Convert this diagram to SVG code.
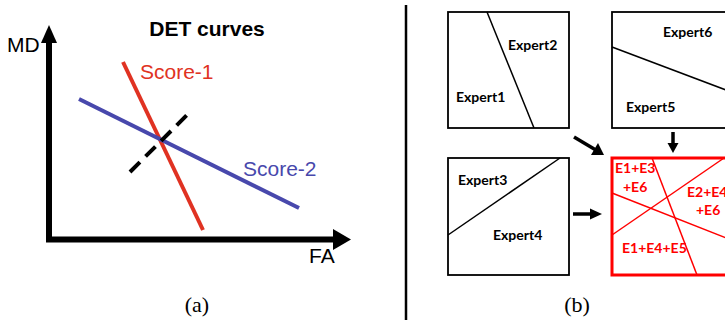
<svg xmlns="http://www.w3.org/2000/svg" width="725" height="322" viewBox="0 0 725 322">
<style>
.ax{stroke:#000;stroke-width:6;fill:none}
.lbl{font-family:"Liberation Sans",Arial,sans-serif;font-size:21px}
.cap{font-family:"Liberation Serif","DejaVu Serif",serif;font-size:22px}
.box{fill:#fff;stroke:#000;stroke-width:1.8}
.thin{stroke:#000;stroke-width:1.5}
.ex{font-family:Lato,"Liberation Sans",sans-serif;font-weight:bold;font-size:14px;fill:#000}
.rex{font-family:Lato,"Liberation Sans",sans-serif;font-weight:bold;font-size:14px;fill:#f00}
.rl{stroke:#f00;stroke-width:1.5}
.arr{stroke:#000;stroke-width:3.5}
</style>
<rect width="725" height="322" fill="#fff"/>
<g id="panel-a">
<g id="axes">
<line class="ax" x1="49" y1="40" x2="49" y2="239.5"/>
<line class="ax" x1="46" y1="239.5" x2="336" y2="239.5"/>
<polygon points="49,25 41,43 57,43" fill="#000"/>
<polygon points="351,239.5 333,229 333,250" fill="#000"/>
</g>
<text class="lbl" x="7" y="52">MD</text>
<text class="lbl" x="309" y="263">FA</text>
<text class="lbl" x="207" y="36" font-weight="bold" text-anchor="middle">DET curves</text>
<g id="score1"><line x1="123" y1="62" x2="203" y2="230" stroke="#e03222" stroke-width="4"/>
<text class="lbl" x="140" y="79" fill="#e03222">Score-1</text></g>
<g id="score2"><line x1="79" y1="99" x2="299" y2="208" stroke="#4848ac" stroke-width="4"/>
<text class="lbl" x="243" y="176" fill="#4848ac">Score-2</text></g>
<line x1="130" y1="172" x2="192" y2="110" stroke="#000" stroke-width="4" stroke-dasharray="14 8"/>
<text class="cap" x="197" y="312" text-anchor="middle">(a)</text>
</g>
<line x1="406" y1="5" x2="406" y2="320" stroke="#000" stroke-width="2.5"/>
<g id="panel-b">
<g id="expert12">
<rect class="box" x="448" y="12" width="121" height="116"/>
<line class="thin" x1="487" y1="12" x2="534" y2="128"/>
<text class="ex" x="508" y="50">Expert2</text>
<text class="ex" x="456" y="102">Expert1</text>
</g>
<g id="expert56">
<rect class="box" x="612" y="12" width="122" height="116"/>
<line class="thin" x1="612" y1="47" x2="734" y2="93"/>
<text class="ex" x="663" y="37">Expert6</text>
<text class="ex" x="626" y="112">Expert5</text>
</g>
<g id="expert34">
<rect class="box" x="448" y="158" width="121" height="117"/>
<line class="thin" x1="448" y1="235" x2="560" y2="158"/>
<text class="ex" x="458" y="185">Expert3</text>
<text class="ex" x="493" y="240">Expert4</text>
</g>
<g id="fusion">
<rect x="612" y="158" width="122" height="117" fill="#fff" stroke="#f00" stroke-width="3"/>
<line class="rl" x1="652" y1="158" x2="697" y2="275"/>
<line class="rl" x1="612" y1="193" x2="734" y2="241"/>
<line class="rl" x1="612" y1="235" x2="724" y2="158"/>
<text class="rex" x="615" y="173">E1+E3</text>
<text class="rex" x="623" y="192">+E6</text>
<text class="rex" x="687" y="197">E2+E4</text>
<text class="rex" x="696" y="215">+E6</text>
<text class="rex" x="622" y="253">E1+E4+E5</text>
</g>
<g id="connectors">
<line class="arr" x1="574" y1="137" x2="595" y2="149.5"/>
<polygon points="604,155 591,155 598,143" fill="#000"/>
<line class="arr" x1="673" y1="132" x2="673" y2="145"/>
<polygon points="673,153 667.5,143 678.5,143" fill="#000"/>
<line class="arr" x1="573" y1="214" x2="592" y2="214"/>
<polygon points="602,214 590,208.5 590,219.5" fill="#000"/>
</g>
<text class="cap" x="577" y="312" text-anchor="middle">(b)</text>
</g>
</svg>
